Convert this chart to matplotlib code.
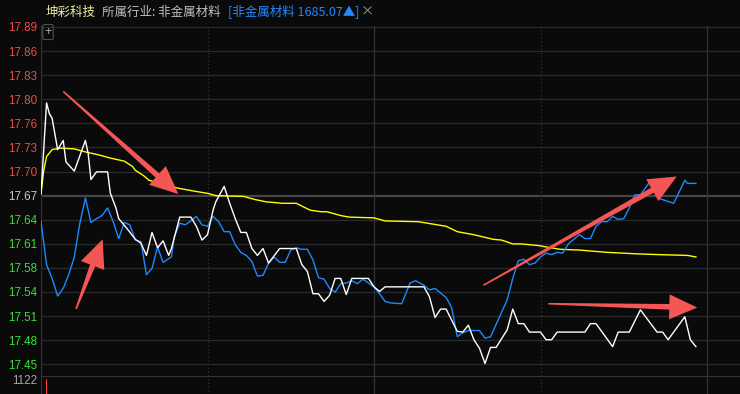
import matplotlib
matplotlib.use('Agg')
import matplotlib.pyplot as plt
import numpy as np
from matplotlib.patches import Polygon
from matplotlib.transforms import IdentityTransform

plt.rcParams['font.family'] = ['Liberation Sans', 'Noto Sans CJK SC', 'DejaVu Sans']

# 坤彩科技 分时 (分钟, 价格)
price_min = [0, 2, 3, 4, 6, 8, 9, 11, 12, 16, 17, 18, 20, 24, 25, 27, 28, 31, 34, 36, 38, 40, 42, 44, 46, 47, 50, 54, 56, 58,
             60, 62, 63, 66, 68, 70, 72, 74, 76, 78, 80, 82, 86, 92, 94, 96, 98, 100, 102, 104, 106, 108, 110, 112, 118, 120,
             122, 124, 138, 140, 142, 144, 146, 150, 152, 154, 156, 158, 160, 162, 164, 168, 170, 172, 174, 176, 180, 182,
             184, 186, 196, 198, 200, 206, 208, 212, 216, 222, 224, 226, 232, 234, 236]
price = [17.672, 17.791, 17.777, 17.771, 17.730, 17.742, 17.714, 17.706, 17.702, 17.742, 17.725, 17.691, 17.701, 17.701,
         17.673, 17.654, 17.640, 17.627, 17.613, 17.608, 17.592, 17.622, 17.602, 17.611, 17.592, 17.601, 17.642, 17.642,
         17.630, 17.612, 17.619, 17.651, 17.662, 17.682, 17.660, 17.640, 17.622, 17.622, 17.601, 17.592, 17.601, 17.582,
         17.601, 17.601, 17.580, 17.571, 17.542, 17.542, 17.532, 17.540, 17.562, 17.562, 17.541, 17.562, 17.562, 17.551,
         17.545, 17.551, 17.551, 17.538, 17.511, 17.522, 17.522, 17.493, 17.492, 17.501, 17.482, 17.471, 17.451, 17.472,
         17.472, 17.495, 17.522, 17.503, 17.503, 17.492, 17.492, 17.482, 17.482, 17.492, 17.492, 17.503, 17.503, 17.473,
         17.492, 17.492, 17.521, 17.492, 17.492, 17.482, 17.512, 17.482, 17.473]

# 非金属材料 板块 (叠加)
sector_min = [0, 1, 2, 4, 6, 8, 10, 12, 14, 16, 18, 20, 22, 24, 26, 28, 30, 32, 34, 36, 38, 40, 42, 44, 47, 48, 50, 52, 54, 56,
              58, 60, 62, 64, 66, 68, 70, 72, 74, 76, 78, 80, 82, 84, 86, 88, 90, 92, 94, 96, 98, 100, 102, 104, 106, 108,
              110, 112, 114, 116, 118, 120, 122, 124, 126, 130, 133, 135, 138, 140, 142, 144, 146, 148, 150, 152, 154, 158,
              160, 162, 165, 168, 170, 172, 174, 176, 178, 180, 182, 184, 186, 188, 190, 192, 194, 196, 198, 200, 202, 204,
              206, 208, 210, 212, 214, 216, 220, 223, 228, 232, 233, 236]
sector = [17.637, 17.608, 17.580, 17.562, 17.539, 17.549, 17.567, 17.590, 17.634, 17.667, 17.635, 17.640, 17.644, 17.654,
          17.636, 17.614, 17.635, 17.632, 17.612, 17.610, 17.567, 17.575, 17.603, 17.583, 17.590, 17.616, 17.634, 17.632,
          17.637, 17.643, 17.632, 17.630, 17.643, 17.636, 17.623, 17.623, 17.606, 17.596, 17.592, 17.584, 17.565, 17.566,
          17.582, 17.590, 17.583, 17.583, 17.599, 17.602, 17.600, 17.600, 17.586, 17.563, 17.561, 17.549, 17.544, 17.555,
          17.556, 17.559, 17.555, 17.561, 17.556, 17.551, 17.542, 17.532, 17.530, 17.529, 17.556, 17.559, 17.553, 17.547,
          17.549, 17.543, 17.537, 17.524, 17.486, 17.491, 17.494, 17.494, 17.484, 17.486, 17.510, 17.534, 17.562, 17.585,
          17.587, 17.580, 17.582, 17.590, 17.595, 17.593, 17.596, 17.595, 17.607, 17.613, 17.619, 17.614, 17.614, 17.630,
          17.636, 17.636, 17.643, 17.639, 17.640, 17.654, 17.671, 17.671, 17.691, 17.666, 17.660, 17.690, 17.686, 17.686]

# 均价线
avg_min = [0, 1, 2, 4, 7, 12, 16, 21, 25, 30, 33, 34, 37, 39, 43, 49, 55, 60, 63, 73, 77, 81, 87, 92, 97, 101, 103, 108,
           111, 120, 124, 136, 141, 146, 150, 156, 163, 166, 170, 173, 179, 187, 194, 204, 215, 223, 233, 236]
avg = [17.673, 17.703, 17.721, 17.730, 17.732, 17.731, 17.727, 17.723, 17.719, 17.715, 17.708, 17.703, 17.696, 17.690,
       17.686, 17.680, 17.676, 17.673, 17.670, 17.669, 17.665, 17.662, 17.660, 17.660, 17.651, 17.649, 17.649, 17.644,
       17.642, 17.641, 17.637, 17.636, 17.633, 17.630, 17.623, 17.619, 17.613, 17.612, 17.607, 17.607, 17.605, 17.600,
       17.599, 17.596, 17.594, 17.593, 17.592, 17.590]

prev_close = 17.67
tick_labels = ['17.45', '17.48', '17.51', '17.54', '17.58', '17.61', '17.64', '17.67',
               '17.70', '17.73', '17.76', '17.80', '17.83', '17.86', '17.89']

vol_min = [2]
vol = [1122]
vol_labels = ['1122', '748', '374']

# 箭头 (尾, 头)
arrows = [((8.0, 17.806), (49.5, 17.672)),
          ((12.6, 17.522), (22.2, 17.613)),
          ((159.4, 17.553), (229.1, 17.695)),
          ((182.8, 17.529), (236.5, 17.524))]

bg = '#0a0a0a'
grid_c = '#2a2a2a'

fig = plt.figure(figsize=(7.4, 3.94), dpi=100, facecolor=bg)
W, H = 740, 394
ax = fig.add_axes([41 / W, 1 - 376 / H, 699 / W, 350 / H], facecolor=bg)
vax = fig.add_axes([41 / W, 1 - 438 / H, 699 / W, 62 / H], facecolor=bg)

ax.set_xlim(0, 699 / 2.775)
ax.set_ylim(17.4347, 17.8913)
vax.set_xlim(0, 699 / 2.775)
vax.set_ylim(0, 1189)

yt = np.linspace(17.45, 17.89, 15)
for v in yt:
    if abs(v - prev_close) < 1e-6:
        ax.axhline(v, color='#454545', lw=1.6, zorder=1)
    else:
        ax.axhline(v, color=grid_c, lw=0.9, zorder=1)

for a in (ax, vax):
    for m, ls in [(60, (0, (1, 2))), (120, '-'), (180, (0, (1, 2))), (240, '-')]:
        a.axvline(m, color='#333333', lw=0.9, ls=ls, zorder=1)
    for s in ['top', 'right', 'bottom']:
        a.spines[s].set_visible(False)
    a.spines['left'].set_color('#333333')
    a.set_xticks([])
vax.spines['top'].set_visible(True)
vax.spines['top'].set_color('#333333')

ax.set_yticks(yt)
ax.set_yticklabels(tick_labels)
ax.tick_params(axis='y', length=0, pad=2.5, labelsize=8.4)
for lbl, v in zip(ax.get_yticklabels(), yt):
    if v > prev_close + 1e-6:
        lbl.set_color('#f24848')
    elif v < prev_close - 1e-6:
        lbl.set_color('#36e036')
    else:
        lbl.set_color('#c8c8d2')

ax.plot(avg_min, avg, color='#ffff00', lw=1.0, zorder=3)
ax.plot(sector_min, sector, color='#1e88ff', lw=1.0, zorder=4)
ax.plot(price_min, price, color='#ffffff', lw=1.0, zorder=5)

vax.bar(vol_min, vol, width=0.5, color='#ff4040', zorder=3)
vax.set_yticks([1122, 748, 374])
vax.set_yticklabels(vol_labels)
vax.tick_params(axis='y', length=0, pad=2.5, labelsize=8.4, labelcolor='#a8a8a8')

# 红色箭头
for tail, tip in arrows:
    t = ax.transData.transform(tail)
    h = ax.transData.transform(tip)
    d = h - t
    u = d / np.hypot(*d)
    n = np.array([-u[1], u[0]])
    b = h - u * 28
    pts = [t + n * 0.8, b + n * 2.8, b + n * 12.5, h, b - n * 12.5, b - n * 2.8, t - n * 0.8]
    fig.add_artist(Polygon(pts, closed=True, transform=IdentityTransform(),
                           facecolor='#f45555', edgecolor='none', zorder=10))

# 标题栏
ty = 1 - 12 / H
cjk = ['Noto Sans CJK SC', 'DejaVu Sans']
fig.text(46 / W, ty, '坤彩科技', color='#f0f0a0', fontsize=9, family=cjk, va='center')
fig.text(102 / W, ty, '所属行业: 非金属材料', color='#c0c0c0', fontsize=9, family=cjk, va='center')
fig.text(228 / W, ty, '[非金属材料 1685.07▲]', color='#2288ff', fontsize=9, family=cjk, va='center')
fig.text(361 / W, ty, '×', color='#a0a0a0', fontsize=9.5, family=cjk, va='center')
fig.text(48 / W, 1 - 32 / H, '+', color='#b0b0b0', fontsize=9, ha='center', va='center',
         bbox=dict(boxstyle='round,pad=0.12', fc='none', ec='#505050', lw=0.8))

fig.savefig('out.png', dpi=100, facecolor=bg)
